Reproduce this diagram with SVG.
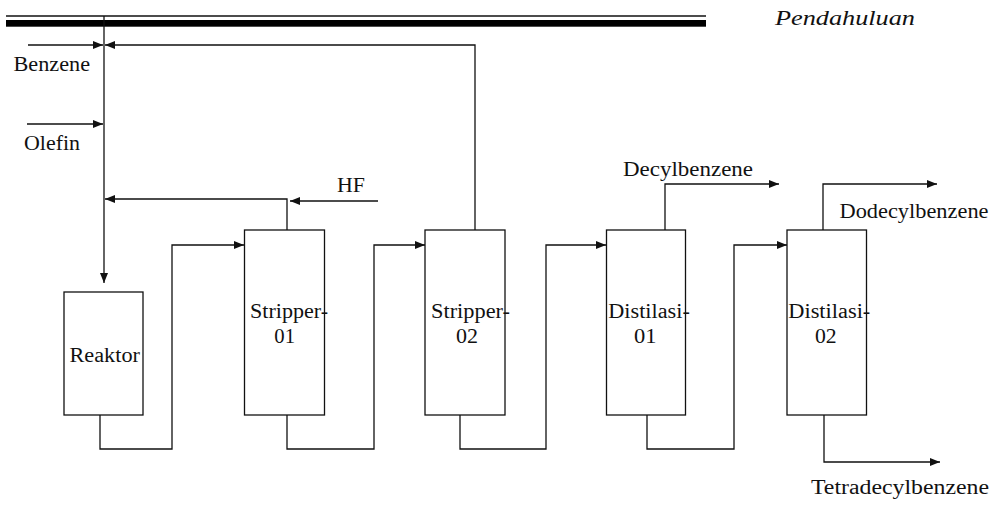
<svg xmlns="http://www.w3.org/2000/svg" width="993" height="506" viewBox="0 0 993 506">
<style>
.ln{fill:none;stroke:#111;stroke-width:1.3}
.bx{fill:#fff;stroke:#111;stroke-width:1.3}
.t{font-size:20.5px;fill:#111}
.h{font-style:italic;font-size:22px;fill:#111}
</style>
<defs>
<marker id="ah" markerUnits="userSpaceOnUse" markerWidth="10" markerHeight="8" refX="10" refY="4" orient="auto">
<path d="M0,0 L10,4 L0,8 z" fill="#111"/>
</marker>
</defs>
<g id="header">
<rect x="6" y="15.3" width="700" height="1.4" fill="#000"/>
<rect x="6" y="20" width="700" height="6.7" fill="#000"/>
<text class="h" font-family="Liberation Serif, DejaVu Serif, serif" x="775" y="25" textLength="140" lengthAdjust="spacingAndGlyphs">Pendahuluan</text>
</g>
<g id="connectors">
<path class="ln" d="M104,16 V283" marker-end="url(#ah)"/>
<path class="ln" d="M28,45 H103" marker-end="url(#ah)"/>
<path class="ln" d="M27,124 H103" marker-end="url(#ah)"/>
<path class="ln" d="M475,230 V45 H105" marker-end="url(#ah)"/>
<path class="ln" d="M287,230 V199 H105" marker-end="url(#ah)"/>
<path class="ln" d="M378,201 H290" marker-end="url(#ah)"/>
<path class="ln" d="M100,415 V449 H172 V245 H244" marker-end="url(#ah)"/>
<path class="ln" d="M287,415 V449 H374 V245 H425" marker-end="url(#ah)"/>
<path class="ln" d="M460,415 V449 H546 V245 H606" marker-end="url(#ah)"/>
<path class="ln" d="M647,415 V449 H734 V245 H787" marker-end="url(#ah)"/>
<path class="ln" d="M665,230 V184 H779" marker-end="url(#ah)"/>
<path class="ln" d="M823,230 V184 H937" marker-end="url(#ah)"/>
<path class="ln" d="M824,415 V462 H940" marker-end="url(#ah)"/>
</g>
<g id="labels" font-family="Liberation Serif, DejaVu Serif, serif">
<text class="t" x="13.5" y="70.5" textLength="76.5" lengthAdjust="spacingAndGlyphs">Benzene</text>
<text class="t" x="24" y="150" textLength="56" lengthAdjust="spacingAndGlyphs">Olefin</text>
<text class="t" x="337" y="192" textLength="28" lengthAdjust="spacingAndGlyphs">HF</text>
<text class="t" x="623" y="176" textLength="130" lengthAdjust="spacingAndGlyphs">Decylbenzene</text>
<text class="t" x="839.5" y="217.5" textLength="149" lengthAdjust="spacingAndGlyphs">Dodecylbenzene</text>
<text class="t" x="811" y="493.5" textLength="178" lengthAdjust="spacingAndGlyphs">Tetradecylbenzene</text>
</g>
<g id="reaktor" font-family="Liberation Serif, DejaVu Serif, serif">
<rect class="bx" x="64" y="292" width="79" height="123"/>
<text class="t" x="69.5" y="361.5" textLength="70.5" lengthAdjust="spacingAndGlyphs">Reaktor</text>
</g>
<g id="stripper01" font-family="Liberation Serif, DejaVu Serif, serif">
<rect class="bx" x="244.5" y="230" width="80" height="185"/>
<text class="t" x="250" y="318.3" textLength="78" lengthAdjust="spacingAndGlyphs">Stripper-</text>
<text class="t" x="274.3" y="343.3" textLength="20.7" lengthAdjust="spacingAndGlyphs">01</text>
</g>
<g id="stripper02" font-family="Liberation Serif, DejaVu Serif, serif">
<rect class="bx" x="425" y="230" width="80" height="185"/>
<text class="t" x="431" y="318.3" textLength="79" lengthAdjust="spacingAndGlyphs">Stripper-</text>
<text class="t" x="456" y="343.3" textLength="22" lengthAdjust="spacingAndGlyphs">02</text>
</g>
<g id="distilasi01" font-family="Liberation Serif, DejaVu Serif, serif">
<rect class="bx" x="606.5" y="230" width="79" height="185"/>
<text class="t" x="608.3" y="318.3" textLength="81.5" lengthAdjust="spacingAndGlyphs">Distilasi-</text>
<text class="t" x="634" y="343.3" textLength="22.5" lengthAdjust="spacingAndGlyphs">01</text>
</g>
<g id="distilasi02" font-family="Liberation Serif, DejaVu Serif, serif">
<rect class="bx" x="787" y="230" width="79.5" height="185"/>
<text class="t" x="788.3" y="318.3" textLength="82" lengthAdjust="spacingAndGlyphs">Distilasi-</text>
<text class="t" x="815" y="343.3" textLength="21.7" lengthAdjust="spacingAndGlyphs">02</text>
</g>
</svg>
